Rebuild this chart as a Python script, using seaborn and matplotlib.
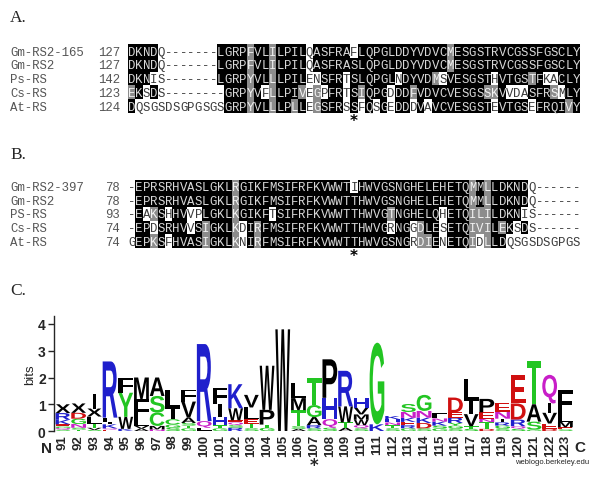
import matplotlib
matplotlib.use("Agg")
import matplotlib.pyplot as plt
import numpy as np
import seaborn as sns
from matplotlib.colors import ListedColormap
from matplotlib.font_manager import FontProperties
from matplotlib.patches import PathPatch
from matplotlib.textpath import TextPath
from matplotlib.transforms import Affine2D

# ---- panel A alignment ----
names_a = ["Gm-RS2-165", "Gm-RS2", "Ps-RS", "Cs-RS", "At-RS"]
starts_a = [127, 127, 142, 123, 124]
seqs_a = [
    "DKNDQ-------LGRPFVLILPILQASFRAFLQPGLDDYVDVCMESGSTRVCGSSFGSCLY",
    "DKNDQ-------LGRPFVLILPILQASFRASLQPGLDDYVDVCMESGSTRVCGSSFGSCLY",
    "DKNIS-------LGRPYVLLLPILENSFRTSLQPGLNDYVDMSVESGSTHVTGSTFKACLY",
    "EKSDS--------GRPYVFLLPIVEGPFRTSIQPGDDDFVDVCVESGSSKVVDASFRSMLY",
    "DQSGSDSGPGSGSGRPYVLLLPLLEGSFRSSFQSGEDDDVAVCVESGSTEVTGSEFRQIVY",
]
# B = identical (black), G = similar (grey), W = different (white)
shade_a = [
    "BBBBWWWWWW" "WWBBBBGBBG" "BBBBWBBBBB" "WBBBBBBBBB" "BBBGBBBBBB" "BBBBBBBBBBB",
    "BBBBWWWWWW" "WWBBBBGBBG" "BBBBWBBBBB" "BBBBBBBBBB" "BBBGBBBBBB" "BBBBBBBBBBB",
    "BBBWWWWWWW" "WWBBBBGBBG" "BBBBWWBBBW" "BBBBBBWBBB" "BGWBBBBBBW" "BBBBGBWWBBB",
    "GBWBWWWWWW" "WWWBBBGBWG" "BBBGWGWBBW" "BGBBBWBBGB" "BBBBBBBBGG" "BWWWBBBGWBB",
    "BWWWWWWWWW" "WWWBBBGBBG" "BBGBWGBBBW" "BWBWBWBBWB" "WBBBBBBBBW" "BBBBWBBBBGB",
]

# ---- panel B alignment ----
names_b = ["Gm-RS2-397", "Gm-RS2", "PS-RS", "Cs-RS", "At-RS"]
starts_b = [78, 78, 93, 74, 74]
seqs_b = [
    "-EPRSRHVASLGKLRGIKFMSIFRFKVWWTIHWVGSNGHELEHETQMMLLDKNDQ------",
    "-EPRSRHVASLGKLRGIKFMSIFRFKVWWTTHWVGSNGHELEHETQMMLLDKNDQ------",
    "-EAKSHHVVPLGKLKGIKFTSIFRFKVWWTTHWVGTNGHELQHETQILILDKNIS------",
    "-EPDSRHVVSIGKLKDIRFMSIFRFKVWWTTHWVGRNGGDLESETQIVILEKSDS------",
    "GEPKSFHVASIGKLKNIRFMSIFRFKVWWTTHWVGSNGRDIENETQIDLLDQSGSDSGPGS",
]
shade_b = [
    "WBBBBBBBBB" "BBBBGBBBBB" "BBBBBBBBBB" "WBBBBBBBBB" "BBBBBBGBGB" "BBBBWWWWWWW",
    "WBBBBBBBBB" "BBBBGBBBBB" "BBBBBBBBBB" "BBBBBBBBBB" "BBBBBBGBGB" "BBBBWWWWWWW",
    "WBWGBWBBWW" "BBBBGBBBBW" "BBBBBBBBBB" "BBBBBGBBBB" "BBWBBBGGGB" "BBBWWWWWWWW",
    "WBBWBBBBWB" "GBBBGWBGBB" "BBBBBBBBBB" "BBBBBWBBWG" "BBWBBBGGGB" "GBWBWWWWWWW",
    "WBBGBWBBBB" "GBBBGWBGBB" "BBBBBBBBBB" "BBBBBBBBWG" "GBWBBBGWGB" "BWWWWWWWWWW",
]
star_col = 31

# ---- panel C sequence logo (letters bottom -> top, heights in bits) ----
logo_pos = [91, 92, 93, 94, 95, 96, 97, 98, 99, 100, 101, 102, 103, 104, 105, 106, 107,
            108, 109, 110, 111, 112, 113, 114, 115, 116, 117, 118, 119, 120, 121, 122, 123]
logo_letters = ["SQGEKRX", "TSNGDX", "SVTLXI", "EQKIFR", "KWYF", "AVLFM", "NMCSA",
                "SGCIL", "GTSAVF", "LQR", "GTHIF", "RSQEWK", "STELV", "GTPW", "W",
                "ASTML", "SRAGT", "SQHP", "ATWR", "SQWMVH", "KG", "STNHK", "GREKNS",
                "SDKNG", "GSKNF", "SGYRED", "STVIL", "DTNEP", "SGRINE", "SQRDE",
                "GSAT", "DEVIQ", "SEMLF"]
logo_heights = [
    [0.05, 0.06, 0.06, 0.08, 0.17, 0.25, 0.33],
    [0.05, 0.07, 0.14, 0.20, 0.22, 0.35],
    [0.04, 0.08, 0.15, 0.27, 0.30, 0.55],
    [0.05, 0.05, 0.15, 0.10, 0.15, 2.10],
    [0.08, 0.45, 0.90, 0.57],
    [0.09, 0.10, 0.25, 0.75, 0.81],
    [0.06, 0.13, 0.50, 0.62, 0.69],
    [0.12, 0.12, 0.20, 0.40, 0.70],
    [0.10, 0.10, 0.10, 0.20, 0.60, 0.45],
    [0.12, 0.25, 2.88],
    [0.10, 0.12, 0.30, 0.50, 0.60],
    [0.12, 0.10, 0.10, 0.08, 0.45, 0.90],
    [0.10, 0.18, 0.15, 0.45, 0.47],
    [0.12, 0.12, 0.55, 1.65],
    [3.80],
    [0.08, 0.10, 0.60, 0.45, 0.55],
    [0.10, 0.12, 0.30, 0.45, 1.00],
    [0.12, 0.32, 0.80, 1.44],
    [0.12, 0.20, 0.60, 1.33],
    [0.10, 0.12, 0.20, 0.20, 0.25, 0.35],
    [0.25, 3.05],
    [0.10, 0.12, 0.10, 0.12, 0.12],
    [0.10, 0.12, 0.12, 0.15, 0.22, 0.30],
    [0.10, 0.20, 0.20, 0.25, 0.60],
    [0.10, 0.10, 0.15, 0.12, 0.20],
    [0.10, 0.10, 0.10, 0.20, 0.20, 0.55],
    [0.08, 0.10, 0.45, 0.50, 0.82],
    [0.08, 0.25, 0.12, 0.25, 0.50],
    [0.10, 0.10, 0.12, 0.14, 0.25, 0.35],
    [0.08, 0.10, 0.25, 0.60, 1.05],
    [0.05, 0.30, 0.65, 1.60],
    [0.08, 0.20, 0.40, 0.35, 1.07],
    [0.06, 0.08, 0.20, 0.30, 0.90],
]
star_pos = 107

sns.set_style("white")
plt.rcParams["font.family"] = ["DejaVu Sans"]

W, H = 600, 481
fig = plt.figure(figsize=(W / 100, H / 100), dpi=100)


def rect(x0, y0, x1, y1):
    return [x0 / W, 1 - y1 / H, (x1 - x0) / W, (y1 - y0) / H]


mono = "Liberation Mono"
shade_code = {"W": 0, "G": 1, "B": 2}
text_col = {"W": "#3a3a3a", "G": "#f2f2f2", "B": "#d8d8d8"}
cmap = ListedColormap(["white", "#8c8c8c", "black"])


def draw_alignment(box, names, starts, seqs, shades, star):
    ax = fig.add_axes(rect(*box))
    mat = np.array([[shade_code[c] for c in s] for s in shades])
    sns.heatmap(mat, ax=ax, cmap=cmap, vmin=-0.5, vmax=2.5, cbar=False,
                xticklabels=False, yticklabels=False)
    cw = (box[2] - box[0]) / mat.shape[1]
    for i, (seq, sh) in enumerate(zip(seqs, shades)):
        for j, (ch, s) in enumerate(zip(seq, sh)):
            ax.text(j + 0.5, i + 0.55, ch, ha="center", va="center",
                    family=mono, fontsize=8.9, color=text_col[s])
        ax.text((10 - box[0]) / cw, i + 0.55, names[i], ha="left", va="center",
                family=mono, fontsize=8.9, color="#555555", clip_on=False)
        ax.text((120 - box[0]) / cw, i + 0.55, str(starts[i]), ha="right",
                va="center", family=mono, fontsize=8.9, color="#555555",
                clip_on=False)
    ax.text(star - 0.5, len(seqs) + 0.55, "*", ha="center", va="center",
            fontsize=11, fontweight="bold", color="black", clip_on=False)


draw_alignment((128, 45, 580, 114), names_a, starts_a, seqs_a, shade_a, star_col)
draw_alignment((128, 180.5, 580, 249), names_b, starts_b, seqs_b, shade_b, star_col)

serif = "Liberation Serif"
fig.text(10 / W, 1 - 21.5 / H, "A.", family=serif, fontsize=12.5, va="baseline")
fig.text(10 / W, 1 - 159 / H, "B.", family=serif, fontsize=12.5, va="baseline")
fig.text(10 / W, 1 - 295 / H, "C.", family=serif, fontsize=12.5, va="baseline")

# ---- sequence logo ----
res_color = {}
for c in "AVLIPWFMX":
    res_color[c] = "black"
for c in "GSTYC":
    res_color[c] = "#22c522"
for c in "KRH":
    res_color[c] = "#1f1fcc"
for c in "DE":
    res_color[c] = "#d01010"
for c in "NQ":
    res_color[c] = "#c81ec8"

x_lo, x_hi = 90.43, 123.6
y_lo, y_hi = 0, 4.3
px_col, px_bit = 15.7, 26.75
ax_l = 54
ax = fig.add_axes(rect(ax_l, 432 - y_hi * px_bit, ax_l + (x_hi - x_lo) * px_col, 432))
ax.set_xlim(x_lo, x_hi)
ax.set_ylim(y_lo, y_hi)

logo_font = FontProperties(family="Liberation Sans", weight="bold")


def draw_letter(ch, x, y0, h):
    tp = TextPath((0, 0), ch, size=1, prop=logo_font)
    bb = tp.get_extents()
    wid = 0.22 if ch == "I" else 0.94
    tr = (Affine2D().translate(-bb.x0, -bb.y0)
          .scale(wid / bb.width, h / bb.height)
          .translate(x - wid / 2, y0) + ax.transData)
    ax.add_patch(PathPatch(tp, transform=tr, facecolor=res_color[ch], lw=0))


for pos, letters, heights in zip(logo_pos, logo_letters, logo_heights):
    y = 0.0
    for ch, h in zip(letters, heights):
        draw_letter(ch, pos, y, h)
        y += h

sns.despine(ax=ax, bottom=True)
ax.spines["left"].set_linewidth(1.0)
ax.set_yticks([0, 1, 2, 3, 4])
ax.set_yticklabels(["0", "1", "2", "3", "4"], family="Liberation Sans",
                   fontweight="bold", fontsize=10)
ax.set_xticks(logo_pos)
ax.set_xticklabels([str(p) for p in logo_pos], rotation=90, family="Liberation Sans",
                   fontweight="bold", fontsize=9.5, va="top")
ax.tick_params(axis="x", length=0, pad=2)
ax.tick_params(axis="y", length=4, width=1, direction="out", pad=2, left=True)
ax.set_ylabel("bits", family="Liberation Sans", fontsize=9.5, labelpad=1)
ax.set_xlabel("")

fig.text(47 / W, 1 - 449 / H, "N", family="Liberation Sans", fontweight="bold",
         fontsize=11, ha="center", va="center")
fig.text(580 / W, 1 - 448 / H, "C", family="Liberation Sans", fontweight="bold",
         fontsize=11, ha="center", va="center")
fig.text(552 / W, 1 - 462 / H, "weblogo.berkeley.edu", family="Liberation Sans",
         fontsize=5.5, ha="center", va="center")
ax.text(star_pos, -(466 - 432) / px_bit, "*", ha="center", va="center",
        fontsize=12, fontweight="bold", clip_on=False)

fig.savefig("out.png", dpi=100)
